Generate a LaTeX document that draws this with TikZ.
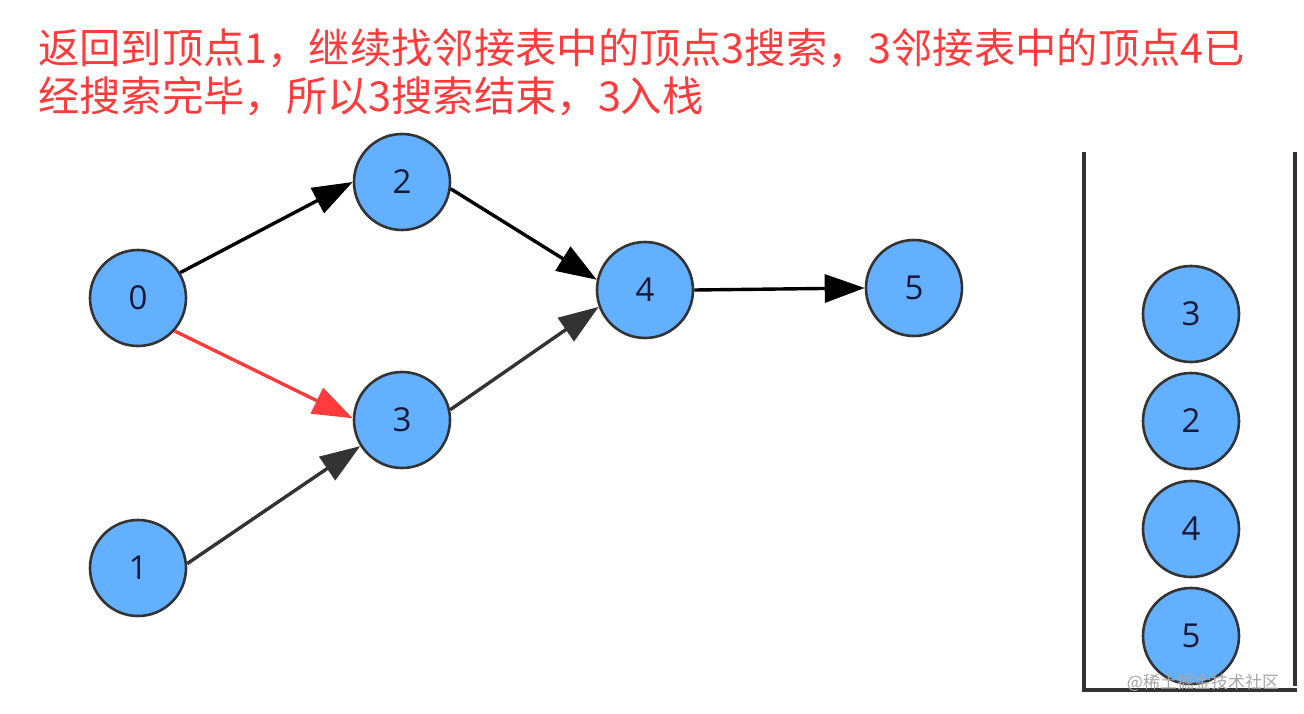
\documentclass[tikz,border=0pt]{standalone}
\usepackage{fontspec}
\setmainfont{Open Sans}
\newfontfamily\cjk{Noto Sans CJK SC}
\usetikzlibrary{arrows.meta}
\definecolor{nodeblue}{HTML}{62B0FF}
\definecolor{edgegray}{HTML}{333333}
\definecolor{titlered}{HTML}{FF3B3B}
\begin{document}
\begin{tikzpicture}[x=1pt,y=-1pt,
  vert/.style={circle,draw=edgegray,line width=2.6pt,fill=nodeblue,minimum size=96pt,inner sep=0pt,font=\fontsize{33}{33}\selectfont,text=edgegray!80!blue!60!black},
  edge/.style={line width=3.4pt,-{Triangle[length=40pt,width=28pt]}},
  wall/.style={line width=3.2pt,draw=edgegray}]
\useasboundingbox (0,0) rectangle (1304,714);
\node[anchor=base west,text=titlered,font=\cjk\fontsize{41.3}{41.3}\selectfont,inner sep=0pt] (t1) at (38,64) {返回到顶点1，继续找邻接表中的顶点3搜索，3邻接表中的顶点4已};
\node[anchor=base west,text=titlered,font=\cjk\fontsize{41.3}{41.3}\selectfont,inner sep=0pt] (t2) at (38,112) {经搜索完毕，所以3搜索结束，3入栈};
\node[vert] (n0) at (138,298) {0};
\node[vert] (n2) at (402,182) {2};
\node[vert] (n3) at (402,420) {3};
\node[vert] (n1) at (138,568) {1};
\node[vert] (n4) at (645,290) {4};
\node[vert] (n5) at (914,288) {5};
\draw[edge,black] (n0.31) -- (n2.west);
\draw[edge,black] (n2.-8) -- (n4.168);
\draw[edge,black] (n4.east) -- (n5.west);
\draw[edge,titlered] (n0.-42) -- (n3.178);
\draw[edge,edgegray] (n1.5) -- (n3.212);
\draw[edge,edgegray] (n3.12) -- (n4.200);
\coordinate (wtl) at (1084,152);
\coordinate (wbl) at (1084,690);
\coordinate (wbr) at (1297,690);
\coordinate (wtr) at (1295,152);
\coordinate (wrb) at (1295,686);
\draw[wall] (wtl) -- (wbl) -- (wbr);
\draw[wall] (wtr) -- (wrb);
\node[vert] (s3) at (1191,314) {3};
\node[vert] (s2) at (1191,421) {2};
\node[vert] (s4) at (1191,529) {4};
\node[vert] (s5) at (1191,636) {5};
\node[text=gray!70,font=\cjk\fontsize{17}{17}\selectfont,inner sep=0pt] (wm) at (1203,683) {@稀土掘金技术社区};
\end{tikzpicture}
\end{document}
